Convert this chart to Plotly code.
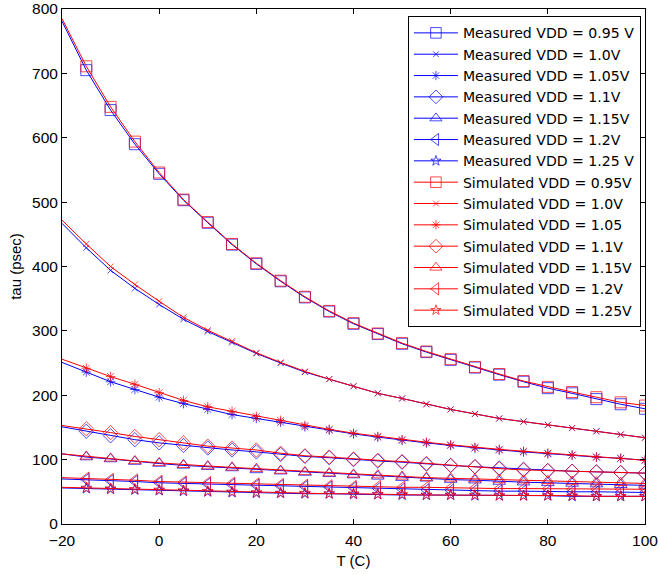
import plotly.graph_objects as go

temps = [-20, -15, -10, -5, 0, 5, 10, 15, 20, 25, 30, 35, 40, 45, 50,
         55, 60, 65, 70, 75, 80, 85, 90, 95, 100]

meas_095 = [781, 705, 643, 590, 544, 503, 468, 434, 404, 377, 352, 330, 311, 295, 280,
            267, 255, 243, 232, 221, 211, 203, 194, 186, 179]
sim_095 = [785, 711, 648, 594, 546, 504, 469, 435, 405, 378, 353, 331, 312, 296, 281,
           268, 256, 244, 233, 222, 213, 205, 197, 189, 184]
meas_100 = [467, 429, 394, 366, 341, 318, 299, 282, 265, 250, 236, 225, 214, 203, 195,
            186, 178, 171, 164, 159, 154, 149, 144, 139, 134]
sim_100 = [472, 435, 400, 372, 346, 321, 301, 284, 266, 251, 237, 225, 214, 203, 195,
           186, 178, 171, 164, 159, 154, 149, 144, 139, 134]
meas_105 = [251, 236, 221, 209, 197, 187, 178, 170, 164, 158, 151, 146, 140, 135, 130,
            126, 122, 118, 115, 112, 109, 107, 104, 102, 99]
sim_105 = [256, 242, 229, 217, 204, 192, 182, 175, 167, 161, 153, 147, 141, 136, 131,
           127, 123, 119, 116, 113, 110, 107, 104, 102, 99]
meas_110 = [151, 144, 137, 131, 126, 122, 118, 115, 112, 108, 105, 103, 100, 98, 96,
            93, 91, 89, 87, 85, 83, 82, 81, 80, 79]
sim_110 = [153, 148, 142, 136, 131, 126, 121, 118, 115, 110, 106, 104, 101, 99, 97,
           94, 91, 89, 86, 84, 83, 82, 81, 80, 79]
meas_115 = [109, 104, 101, 97, 94, 91, 89, 87, 84, 82, 80, 78, 76, 74, 72,
            71, 69, 68, 66, 65, 64, 63, 62, 61, 60]
sim_115 = [109, 105, 102, 98, 95, 92, 90, 88, 86, 83, 81, 79, 77, 76, 74,
           72, 71, 70, 69, 68, 67, 66, 65, 64, 63]
meas_120 = [70, 69, 67, 66, 64, 63, 62, 61, 60, 59, 58, 57, 56, 55, 54,
            53, 52, 52, 51, 51, 50, 50, 50, 49, 49]
sim_120 = [72, 71, 69, 68, 66, 65, 64, 63, 62, 61, 60, 59, 58, 58, 57,
           57, 56, 56, 55, 55, 55, 54, 54, 54, 54]
meas_125 = [56, 55, 54, 53, 52, 51, 50, 49, 48, 48, 47, 47, 46, 46, 45,
            45, 45, 44, 44, 44, 44, 43, 43, 43, 43]
sim_125 = [57, 56, 55, 54, 53, 52, 51, 50, 49, 48, 48, 47, 47, 46, 46,
           45, 45, 45, 44, 44, 44, 44, 43, 43, 43]

meas_names = ["Measured VDD = 0.95 V", "Measured VDD = 1.0V", "Measured VDD = 1.05V",
              "Measured VDD = 1.1V", "Measured VDD = 1.15V", "Measured VDD = 1.2V",
              "Measured VDD = 1.25 V"]
sim_names = ["Simulated VDD = 0.95V", "Simulated VDD = 1.0V", "Simulated VDD = 1.05",
             "Simulated VDD = 1.1V", "Simulated VDD = 1.15V", "Simulated VDD = 1.2V",
             "Simulated VDD = 1.25V"]
meas_series = [meas_095, meas_100, meas_105, meas_110, meas_115, meas_120, meas_125]
sim_series = [sim_095, sim_100, sim_105, sim_110, sim_115, sim_120, sim_125]

symbols = ["square-open", "x-thin-open", "asterisk-open", "diamond-open",
           "triangle-up-open", "triangle-left-open", "star-open"]
sizes = [11, 6, 8, 11, 11, 11, 8]

fig = go.Figure()

def add(series_list, names, color):
    for ys, name, sym, sz in zip(series_list, names, symbols, sizes):
        msizes = [0] + [sz] * (len(temps) - 1)
        fig.add_trace(go.Scatter(
            x=temps, y=ys, name=name, mode="lines+markers",
            line=dict(color=color, width=1),
            marker=dict(symbol=sym, size=msizes, color=color,
                        line=dict(color=color, width=1)),
        ))

add(meas_series, meas_names, "#0000FF")
add(sim_series, sim_names, "#FF0000")

font = "Liberation Sans, Arial, Helvetica, sans-serif"
axis_common = dict(
    showgrid=False, zeroline=False, showline=True, linecolor="black", linewidth=1,
    mirror="ticks", ticks="inside", ticklen=5, tickcolor="black", automargin=False,
    tickfont=dict(family=font, size=15.5, color="black"),
)

fig.update_layout(
    width=659, height=574,
    margin=dict(l=62, r=14, t=9, b=50),
    paper_bgcolor="white", plot_bgcolor="white",
    font=dict(family=font, size=15, color="black"),
    xaxis=dict(range=[-20, 100], tickvals=[-20, 0, 20, 40, 60, 80, 100],
               ticklabelstandoff=2,
               title=dict(text="T (C)", font=dict(size=15), standoff=7), **axis_common),
    yaxis=dict(range=[0, 800], tickvals=[0, 100, 200, 300, 400, 500, 600, 700, 800],
               title=dict(text="tau (psec)", font=dict(size=15), standoff=6), **axis_common),
    legend=dict(x=0.993, y=0.986, xanchor="right", yanchor="top",
                bgcolor="white", bordercolor="black", borderwidth=1,
                font=dict(family="DejaVu Sans, Liberation Sans, sans-serif", size=14.1, color="black"),
                itemwidth=44, tracegroupgap=0),
    showlegend=True,
)

fig.write_html("out.html")
